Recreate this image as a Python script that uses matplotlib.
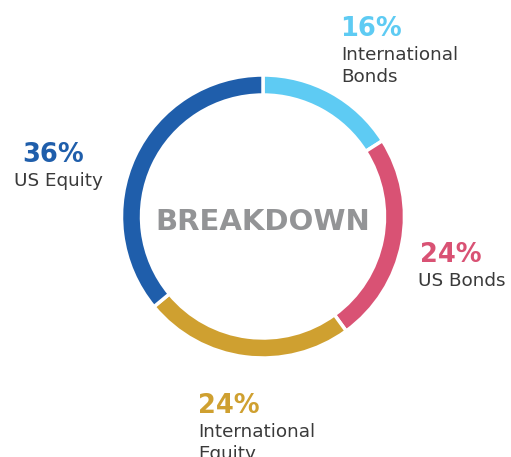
import matplotlib
matplotlib.use("Agg")
import matplotlib.pyplot as plt

labels = ["International\nBonds", "US Bonds", "International\nEquity", "US Equity"]
values = [16, 24, 24, 36]
colors = ["#5ECBF3", "#D95274", "#CFA030", "#1F5EAB"]

W, H = 511, 457
fig = plt.figure(figsize=(W / 100, H / 100), dpi=100)
ax = fig.add_axes([0, 0, 1, 1])

cx, cy, r = 263, H - 216.5, 141.5
ax.pie(values, colors=colors, startangle=90, counterclock=False,
       center=(cx, cy), radius=r, frame=True,
       wedgeprops=dict(width=20, edgecolor="white", linewidth=2.5))
ax.set_xlim(0, W)
ax.set_ylim(0, H)
ax.set_aspect("equal")
ax.axis("off")

fam = ["DejaVu Sans"]
ax.text(cx, H - 230, "BREAKDOWN", ha="center", va="baseline", fontsize=21,
        fontweight="bold", color="#939496", family=fam)

# label positions (x, baseline y of pct) in pixel coords
pos = [(340, 36), (420, 262), (198, 413), (22, 162)]
lab_x = [341, 418, 198, 14]
for v, lab, c, (x, y), lx in zip(values, labels, colors, pos, lab_x):
    ax.text(x, H - y, f"{v}%", ha="left", va="baseline", fontsize=18.5,
            fontweight="bold", color=c, family=fam)
    for i, line in enumerate(lab.split("\n")):
        ax.text(lx, H - y - 24 - 22 * i, line, ha="left", va="baseline",
                fontsize=13.2, color="#3a3a3a", family=fam)

fig.savefig("out.png", dpi=100, facecolor="white")
